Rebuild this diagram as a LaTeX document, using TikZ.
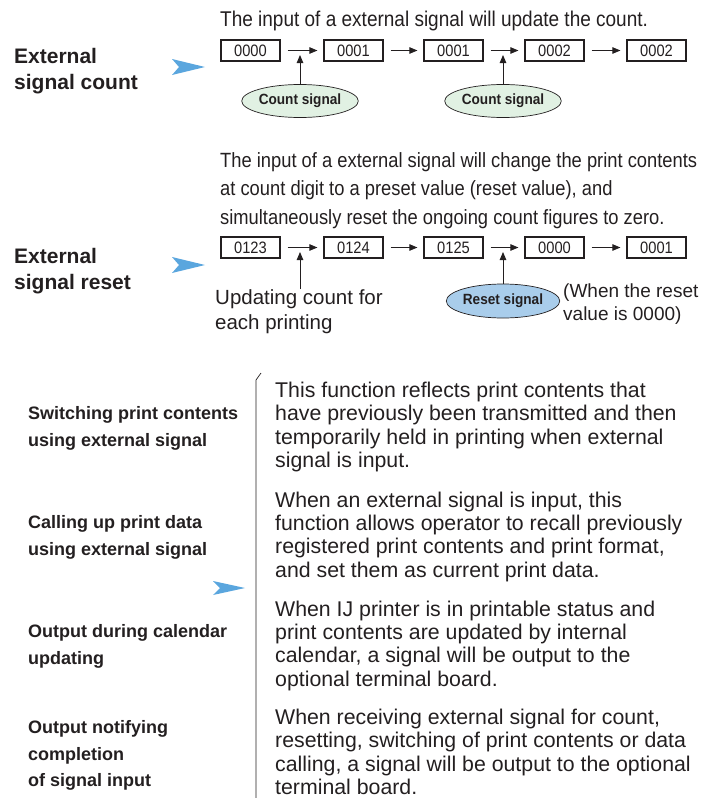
\documentclass[tikz,border=0pt]{standalone}
\usepackage{fontspec}
\setmainfont{Liberation Sans}
\newfontfamily\cnd[FakeStretch=0.89]{Liberation Sans}
\newfontfamily\cndb[FakeStretch=0.92]{Liberation Sans}
\usetikzlibrary{arrows.meta,shapes.geometric}
\definecolor{ink}{HTML}{231F20}
\definecolor{triblue}{HTML}{5AA6DE}
\definecolor{cntgreen}{HTML}{E1F1E3}
\definecolor{rstblue}{HTML}{A9CDEB}
\tikzset{
  every node/.style={text=ink, inner sep=0pt},
  cbox/.style={draw=ink, line width=1.2pt, minimum width=59pt, minimum height=21pt, font=\cnd\fontsize{16.5}{16.5}\selectfont},
  conn/.style={draw=ink, line width=0.9pt, -{Triangle[length=8pt,width=6.5pt]}, shorten <=7pt, shorten >=6pt},
  vconn/.style={draw=ink, line width=0.9pt, -{Triangle[length=8pt,width=6.5pt]}},
  sig/.style={ellipse, draw=ink, line width=0.7pt, minimum width=110pt, minimum height=33pt, font=\cndb\bfseries\fontsize{14.8}{14.8}\selectfont},
  caption/.style={anchor=base west, align=left, font=\cnd\fontsize{21}{28.5}\selectfont},
  head/.style={anchor=base west, align=left, font=\bfseries\fontsize{21}{26}\selectfont},
  flabel/.style={anchor=base west, align=left, font=\bfseries\fontsize{18}{26.8}\selectfont},
  fdesc/.style={anchor=base west, align=left, font=\fontsize{21.3}{23.4}\selectfont},
  blutri/.style={fill=triblue, draw=none},
}
\begin{document}
\begin{tikzpicture}[x=1pt, y=-1pt]
\useasboundingbox (0,0) rectangle (713,798);

% ---- External signal count ----
\node[caption, font=\cnd\fontsize{21.35}{28.5}\selectfont] (cap1) at (220,26) {The input of a external signal will update the count.};
\node[head] (h1) at (14,89) {External\\signal count};
\fill[blutri] (172,59) -- (205,67) -- (172,75) -- (179,67) -- cycle;

\node[cbox] (a1) at (250.5,50.5) {0000};
\node[cbox] (a2) at (353.5,50.5) {0001};
\node[cbox] (a3) at (453.5,50.5) {0001};
\node[cbox] (a4) at (554.5,50.5) {0002};
\node[cbox] (a5) at (656.5,50.5) {0002};
\draw[conn] (a1) -- (a2);
\draw[conn] (a2) -- (a3);
\draw[conn] (a3) -- (a4);
\draw[conn] (a4) -- (a5);

\node[sig, fill=cntgreen] (cs1) at (300,101) {Count signal};
\node[sig, fill=cntgreen] (cs2) at (503,101) {Count signal};
\coordinate (t1) at (300,55);
\coordinate (t2) at (503,55);
\draw[vconn] (cs1.north) -- (t1);
\draw[vconn] (cs2.north) -- (t2);

% ---- External signal reset ----
\node[caption, font=\cnd\fontsize{20.6}{28.5}\selectfont] (cap2) at (220,224) {The input of a external signal will change the print contents\\at count digit to a preset value (reset value), and\\simultaneously reset the ongoing count figures to zero.};
\node[head] (h2) at (14,289) {External\\signal reset};
\fill[blutri] (172,257) -- (205,265) -- (172,273) -- (179,265) -- cycle;

\node[cbox] (b1) at (250.5,247.5) {0123};
\node[cbox] (b2) at (353.5,247.5) {0124};
\node[cbox] (b3) at (453.5,247.5) {0125};
\node[cbox] (b4) at (554.5,247.5) {0000};
\node[cbox] (b5) at (656.5,247.5) {0001};
\draw[conn] (b1) -- (b2);
\draw[conn] (b2) -- (b3);
\draw[conn] (b3) -- (b4);
\draw[conn] (b4) -- (b5);

\node[caption, font=\fontsize{20.5}{25}\selectfont] (upd) at (215,329) {Updating count for\\each printing};
\coordinate (u0) at (300,289);
\coordinate (u1) at (300,252);
\draw[vconn] (u0) -- (u1);

\node[sig, fill=rstblue, minimum height=34pt] (rs) at (503,301) {Reset signal};
\coordinate (r1) at (503,252);
\draw[vconn] (rs.north) -- (r1);
\node[caption, font=\fontsize{19}{23}\selectfont] (note) at (563,320) {(When the reset\\value is 0000)};

% ---- Functions list ----
\node[flabel] (l1) at (28,446.3) {Switching print contents\\using external signal};
\node[flabel] (l2) at (28,555.3) {Calling up print data\\using external signal};
\node[flabel] (l3) at (28,664.3) {Output during calendar\\updating};
\node[flabel, font=\bfseries\fontsize{18}{26.5}\selectfont] (l4) at (28,786.5) {Output notifying\\completion\\of signal input};

\fill[blutri] (213,581) -- (245,588) -- (213,595) -- (220,588) -- cycle;
\draw[ink, line width=0.7pt] (261,373) -- (256,380) -- (256,798);

\node[fdesc] (d1) at (275,467.7) {This function reflects print contents that\\have previously been transmitted and then\\temporarily held in printing when external\\signal is input.};
\node[fdesc] (d2) at (275,577.2) {When an external signal is input, this\\function allows operator to recall previously\\registered print contents and print format,\\and set them as current print data.};
\node[fdesc] (d3) at (275,686.2) {When IJ printer is in printable status and\\print contents are updated by internal\\calendar, a signal will be output to the\\optional terminal board.};
\node[fdesc] (d4) at (275,794.5) {When receiving external signal for count,\\resetting, switching of print contents or data\\calling, a signal will be output to the optional\\terminal board.};
\end{tikzpicture}
\end{document}
